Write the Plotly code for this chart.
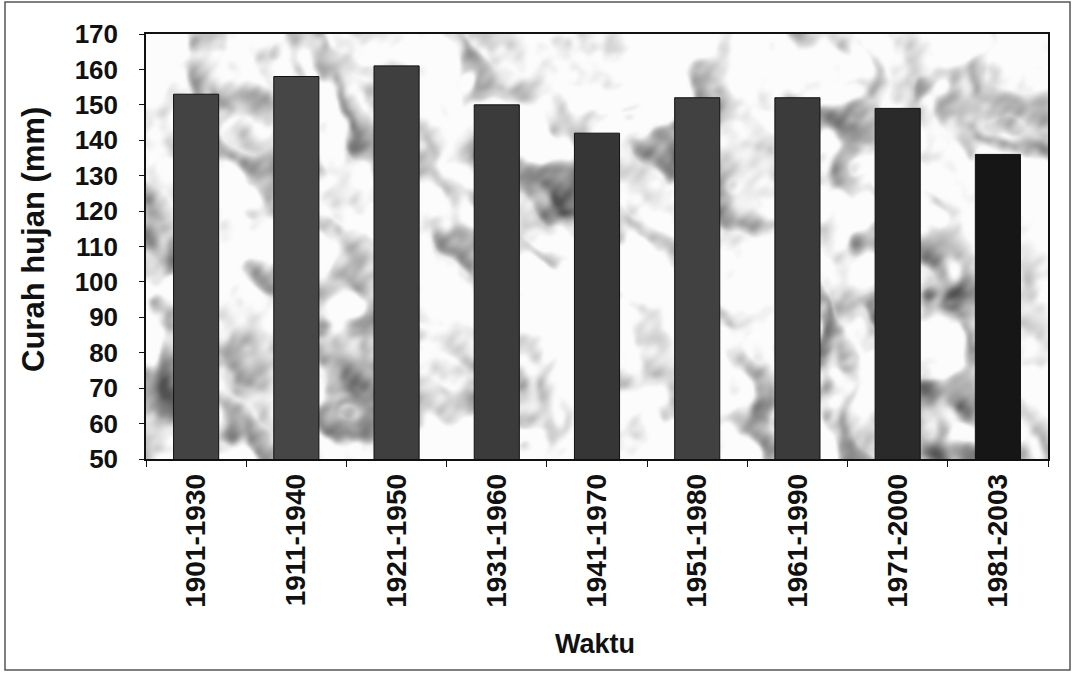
import base64
import struct
import zlib

import numpy as np
import plotly.graph_objects as go

# Rata-rata curah hujan per periode 30 tahun
periode = ["1901-1930", "1911-1940", "1921-1950", "1931-1960", "1941-1970",
           "1951-1980", "1961-1990", "1971-2000", "1981-2003"]
curah_hujan = [153, 158, 161, 150, 142, 152, 152, 149, 136]
warna_batang = ["#434343", "#464646", "#3f3f3f", "#3b3b3b", "#363636",
                "#414141", "#3b3b3b", "#2a2a2a", "#161616"]
y_ticks = list(range(50, 171, 10))

# Plot-area geometry (pixels)
W, H = 1075, 674
L, R, T, B = 146, 1048, 34, 459
FONT = "Liberation Sans, Arial, sans-serif"


def png_gray(arr):
    """Encode a 2-D uint8 array as a grayscale PNG data URI."""
    h, w = arr.shape
    raw = b"".join(b"\x00" + arr[i].tobytes() for i in range(h))

    def chunk(tag, data):
        return (struct.pack(">I", len(data)) + tag + data +
                struct.pack(">I", zlib.crc32(tag + data) & 0xFFFFFFFF))

    png = (b"\x89PNG\r\n\x1a\n" +
           chunk(b"IHDR", struct.pack(">IIBBBBB", w, h, 8, 0, 0, 0, 0)) +
           chunk(b"IDAT", zlib.compress(raw, 9)) +
           chunk(b"IEND", b""))
    return "data:image/png;base64," + base64.b64encode(png).decode()


def wave_field(X, Y, n, f0, growth, seed_phase):
    """Smooth deterministic field built from rotated sine waves."""
    acc = np.zeros_like(X)
    for i in range(n):
        ang = i * 2.399963 + seed_phase
        f = f0 * growth ** (i % 8) * (1 + 0.13 * (i // 8))
        ph = (i * 1.618034 + seed_phase) * 3.7
        acc += np.sin(f * (X * np.cos(ang) + Y * np.sin(ang)) + ph) / (1 + 0.3 * (i % 8))
    return acc / np.abs(acc).max()


# Marbled background texture for the plot area
tw, th = 451, 213
xs = np.linspace(0, (R - L), tw)
ys = np.linspace(0, (B - T), th)
X, Y = np.meshgrid(xs, ys)
n1 = wave_field(X, Y, 16, 0.008, 1.4, 0.3)
n2 = wave_field(X + 35 * n1, Y + 35 * n1, 24, 0.028, 1.35, 1.1)
n3 = wave_field(X + 12 * n2, Y - 12 * n2, 24, 0.07, 1.3, 2.2)
theta = np.deg2rad(-35)
u = X * np.cos(theta) + Y * np.sin(theta)
veins = np.sin(u * 0.05 + 6.0 * n1 + 2.5 * n2)
dark = (0.45 * n2 + 0.25 * n3 + 0.35 * np.clip(veins, 0, 1) + 0.2 * n1)
dark = np.clip((dark - 0.05) / 0.7, 0, 1) ** 1.2
gray = (252 - 170 * dark).clip(0, 255).astype(np.uint8)
texture = png_gray(gray)

fig = go.Figure(go.Bar(
    x=periode,
    y=curah_hujan,
    marker=dict(color=warna_batang, line=dict(color="#111111", width=1)),
    width=0.45,
))

pw, ph = R - L, B - T


def px2paper(x, y):
    return (x - L) / pw, (B - y) / ph


# Outer chart frame
x0, y0 = px2paper(5, 670)
x1, y1 = px2paper(1070, 2)

fig.update_layout(
    width=W, height=H,
    margin=dict(l=L, r=W - R, t=T, b=H - B, pad=0),
    paper_bgcolor="white",
    plot_bgcolor="rgba(0,0,0,0)",
    showlegend=False,
    font=dict(family=FONT, color="#111111"),
    images=[dict(source=texture, xref="paper", yref="paper", x=0, y=1,
                 sizex=1, sizey=1, sizing="stretch", layer="below")],
    shapes=[dict(type="rect", xref="paper", yref="paper", x0=x0, y0=y0,
                 x1=x1, y1=y1, line=dict(color="#555555", width=1.5))],
    annotations=[
        dict(text="Curah hujan (mm)", xref="paper", yref="paper",
             x=px2paper(33, 0)[0], y=px2paper(0, 240)[1], textangle=-90,
             showarrow=False, font=dict(size=31, weight="bold"),
             xanchor="center", yanchor="middle"),
        dict(text="Waktu", xref="paper", yref="paper",
             x=px2paper(595, 0)[0], y=px2paper(0, 644)[1],
             showarrow=False, font=dict(size=27, weight="bold"),
             xanchor="center", yanchor="middle"),
    ],
)

fig.update_xaxes(
    type="category",
    showline=True, linecolor="#111111", linewidth=1.5, mirror=True,
    ticks="outside", tickson="boundaries", ticklen=6, tickcolor="#111111",
    tickangle=-90, tickfont=dict(size=28, family=FONT, weight="bold"),
    ticklabelstandoff=2,
    showgrid=False,
)
fig.update_yaxes(
    range=[50, 170], tickvals=y_ticks,
    showline=True, linecolor="#111111", linewidth=1.5, mirror=True,
    ticks="outside", ticklen=5, tickcolor="#111111",
    tickfont=dict(size=26, family=FONT, weight="bold"), ticklabelstandoff=16,
    showgrid=False, zeroline=False,
)

fig.write_html("out.html")
